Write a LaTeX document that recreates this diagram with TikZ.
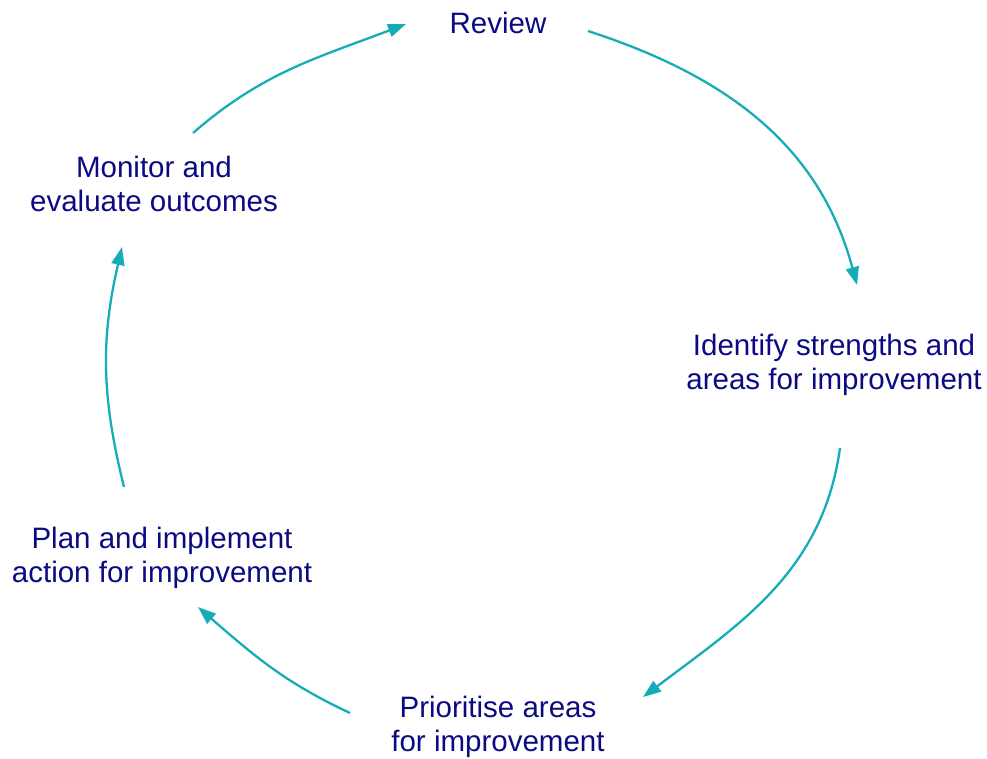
\documentclass[tikz,border=0pt]{standalone}
\usepackage{fontspec}
\setmainfont{Liberation Sans}
\usepackage{tikz}
\usetikzlibrary{arrows.meta}

\definecolor{stepnavy}{RGB}{10,10,130}
\definecolor{cycleteal}{RGB}{20,172,182}

\begin{document}
\begin{tikzpicture}[
  x=0.02cm, y=0.02cm,
  every node/.style={align=center, inner sep=0pt, text=stepnavy, font=\fontsize{16.8}{19.4}\selectfont},
  arrow/.style={-{Triangle[length=0.36cm, width=0.26cm]}, draw=cycleteal, line width=1.3pt}
]
\useasboundingbox (0,0) rectangle (987,758);

\node (review) at (498,735) {Review};
\node (identify) at (834,393) {Identify strengths and\\areas for improvement};
\node (prioritise) at (498,31) {Prioritise areas\\for improvement};
\node (plan) at (162,200) {Plan and implement\\action for improvement};
\node (monitor) at (154,574) {Monitor and\\evaluate outcomes};

% ends of the arcs
\coordinate (r-out) at (588,727);
\coordinate (i-in) at (857,473);
\coordinate (i-out) at (840,310);
\coordinate (p-in) at (643,61);
\coordinate (p-out) at (350,45);
\coordinate (pl-in) at (198,151);
\coordinate (pl-out) at (124,271);
\coordinate (m-in) at (122,511);
\coordinate (m-out) at (193,625);
\coordinate (r-in) at (406,734);

\draw[arrow] (r-out) to[out=-18, in=105] (i-in);
\draw[arrow] (i-out) to[out=-98, in=37] (p-in);
\draw[arrow] (p-out) to[out=155, in=-41] (pl-in);
\draw[arrow] (pl-out) to[out=104, in=-103] (m-in);
\draw[arrow] (m-out) to[out=41, in=201] (r-in);

\end{tikzpicture}
\end{document}
